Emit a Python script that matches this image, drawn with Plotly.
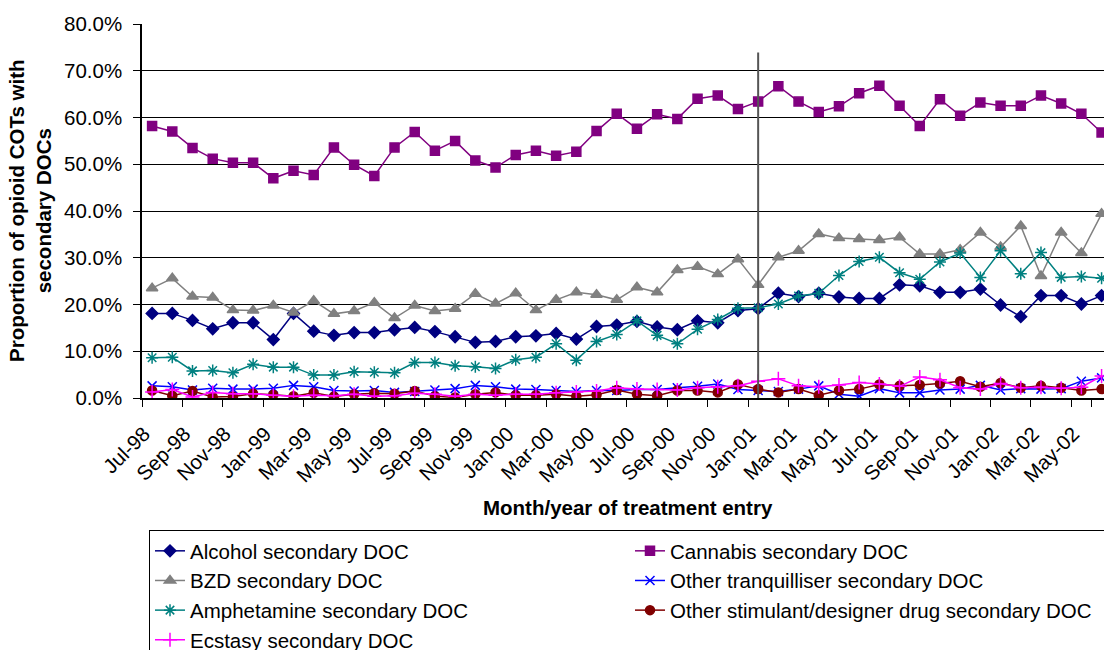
import pandas as pd
import plotly.graph_objects as go

# Month of treatment entry, Jul-98 .. Jun-02
months = list(pd.date_range("1998-07-01", periods=48, freq="MS").strftime("%b-%y"))

# Proportion of opioid COTs with each secondary DOC (%)
alcohol = [18.1, 18.1, 16.6, 14.8, 16.1, 16.1, 12.5, 18.1, 14.3, 13.4, 14.0, 14.0,
           14.6, 15.1, 14.2, 13.1, 11.9, 12.1, 13.1, 13.3, 13.8, 12.6, 15.3, 15.6,
           16.4, 15.2, 14.6, 16.5, 16.1, 18.7, 19.1, 22.4, 21.7, 22.4, 21.6, 21.3,
           21.3, 24.2, 24.0, 22.6, 22.6, 23.3, 19.9, 17.4, 21.9, 21.9, 20.1, 21.9]
cannabis = [58.2, 57.0, 53.5, 51.2, 50.3, 50.3, 47.0, 48.6, 47.7, 53.6, 49.9, 47.5,
            53.6, 56.9, 52.9, 55.0, 50.8, 49.3, 52.0, 52.9, 51.8, 52.7, 57.1, 60.8,
            57.6, 60.7, 59.7, 64.0, 64.7, 61.8, 63.4, 66.7, 63.4, 61.2, 62.4, 65.2,
            66.8, 62.5, 58.2, 63.9, 60.4, 63.2, 62.5, 62.5, 64.7, 63.0, 60.8, 56.8]
bzd = [23.5, 25.6, 21.7, 21.5, 18.8, 18.7, 19.8, 18.3, 20.8, 18.0, 18.6, 20.4,
       17.1, 19.8, 18.6, 19.1, 22.3, 20.2, 22.4, 18.8, 21.0, 22.6, 22.1, 21.0,
       23.7, 22.6, 27.4, 28.1, 26.5, 29.7, 24.2, 30.1, 31.5, 35.1, 34.2, 34.0,
       33.8, 34.4, 30.8, 30.8, 31.7, 35.4, 32.3, 36.8, 26.1, 35.4, 31.0, 39.4]
other_tranq = [2.6, 2.4, 1.7, 2.1, 1.9, 1.9, 2.1, 2.7, 2.4, 1.6, 1.5, 1.6,
               1.2, 1.4, 1.7, 2.0, 2.7, 2.4, 1.9, 1.8, 1.6, 1.4, 1.6, 1.6,
               1.8, 1.8, 2.2, 2.5, 3.0, 1.8, 1.6, 1.4, 1.9, 2.6, 0.8, 0.4,
               2.0, 1.1, 1.1, 1.7, 1.9, 2.7, 1.7, 2.0, 1.9, 2.0, 3.6, 4.3]
amphetamine = [8.6, 8.7, 5.8, 5.9, 5.4, 7.2, 6.6, 6.6, 4.9, 4.9, 5.6, 5.5,
               5.4, 7.6, 7.6, 6.9, 6.7, 6.3, 8.2, 8.7, 11.6, 8.1, 12.1, 13.6,
               16.5, 13.4, 11.6, 14.7, 16.8, 19.2, 19.3, 20.1, 21.8, 22.4, 26.2, 29.2,
               30.1, 26.8, 25.4, 29.1, 31.0, 25.8, 31.5, 26.6, 31.1, 25.8, 26.0, 25.6]
other_stim = [1.6, 0.5, 1.5, 0.2, 0.3, 0.9, 0.7, 0.4, 1.1, 0.3, 0.8, 1.0,
              0.9, 1.5, 0.4, 0.1, 0.8, 1.2, 0.6, 0.6, 0.8, 0.4, 0.7, 1.7,
              0.8, 0.5, 1.6, 1.6, 1.2, 2.9, 1.9, 1.2, 1.9, 0.6, 1.6, 1.9,
              2.9, 2.6, 2.8, 3.1, 3.6, 2.4, 3.2, 2.2, 2.6, 2.2, 1.6, 1.9]
ecstasy = [1.3, 1.8, 0.2, 1.2, 0.9, 0.9, 0.6, 0.4, 0.6, 0.5, 0.8, 0.4,
           0.5, 1.0, 0.8, 0.4, 0.8, 0.6, 0.8, 0.8, 1.1, 1.3, 1.5, 2.2,
           1.9, 1.8, 1.7, 2.2, 2.4, 2.6, 3.6, 4.1, 2.6, 2.4, 2.8, 3.3,
           3.0, 2.5, 4.5, 3.9, 2.2, 1.9, 3.1, 2.2, 2.3, 2.1, 2.3, 4.7]

series = [
    ("Alcohol secondary DOC", alcohol, "#000080", "diamond", 9),
    ("Cannabis secondary DOC", cannabis, "#800080", "square", 9),
    ("BZD secondary DOC", bzd, "#808080", "triangle-up", 10),
    ("Other tranquilliser secondary DOC", other_tranq, "#0000FF", "x-thin", 9),
    ("Amphetamine secondary DOC", amphetamine, "#008080", "asterisk", 10),
    ("Other stimulant/designer drug secondary DOC", other_stim, "#800000", "circle", 9),
    ("Ecstasy secondary DOC", ecstasy, "#FF00FF", "cross-thin", 10),
]

FONT = "Liberation Sans, Arial, sans-serif"
FS = 20.5

fig = go.Figure()
for name, vals, color, symbol, size in series:
    fig.add_trace(go.Scatter(
        x=months, y=[v / 100 for v in vals], name=name, mode="lines+markers",
        line=dict(color=color, width=1.5),
        marker=dict(symbol=symbol, size=size, color=color,
                    line=dict(color=color, width=1.5)),
    ))

# vertical marker at Jan-01
fig.add_shape(type="line", xref="x", yref="y", x0="Jan-01", x1="Jan-01",
              y0=-0.026, y1=0.739, line=dict(color="#555555", width=2))

fig.update_layout(
    width=1104, height=650, autosize=False,
    margin=dict(l=142, r=0, t=24, b=252, autoexpand=False),
    paper_bgcolor="white", plot_bgcolor="white",
    font=dict(family=FONT, size=FS, color="black"),
    showlegend=True,
    legend=dict(orientation="h", x=(149 - 142) / 962, xanchor="left",
                y=(398 - 530) / 374, yanchor="top",
                entrywidth=435, entrywidthmode="pixels",
                bordercolor="black", borderwidth=1, bgcolor="white",
                font=dict(family=FONT, size=FS, color="black"),
                traceorder="normal"),
    xaxis=dict(type="category", range=[-0.5, 47.12],
               tickmode="array", tickvals=months[::2], ticktext=months[::2],
               tickson="boundaries", ticks="outside", ticklen=7, tickwidth=1,
               tickcolor="black", tickangle=-45, showgrid=False,
               showline=True, linecolor="black", linewidth=1.5,
               ticklabelstandoff=14, ticklabelshift=-8,
               tickfont=dict(family=FONT, size=FS, color="black")),
    yaxis=dict(range=[0, 0.8], dtick=0.1, tickformat=".1%",
               ticks="outside", ticklen=7, tickcolor="black",
               showgrid=True, gridcolor="black", gridwidth=1,
               showline=True, linecolor="black", linewidth=1.5,
               zeroline=False, ticklabelstandoff=7,
               tickfont=dict(family=FONT, size=FS, color="black")),
    annotations=[
        dict(text="<b>Month/year of treatment entry</b>", xref="paper", yref="paper",
             x=(628 - 142) / 962, y=(398 - 507) / 374, xanchor="center",
             yanchor="middle", showarrow=False,
             font=dict(family=FONT, size=FS, color="black")),
        dict(text="<b>Proportion of opioid COTs with<br>secondary DOCs</b>",
             xref="paper", yref="paper", x=(30 - 142) / 962, y=0.5,
             xanchor="center", yanchor="middle", textangle=-90, showarrow=False,
             font=dict(family=FONT, size=FS, color="black")),
    ],
)

fig.write_html("out.html")
